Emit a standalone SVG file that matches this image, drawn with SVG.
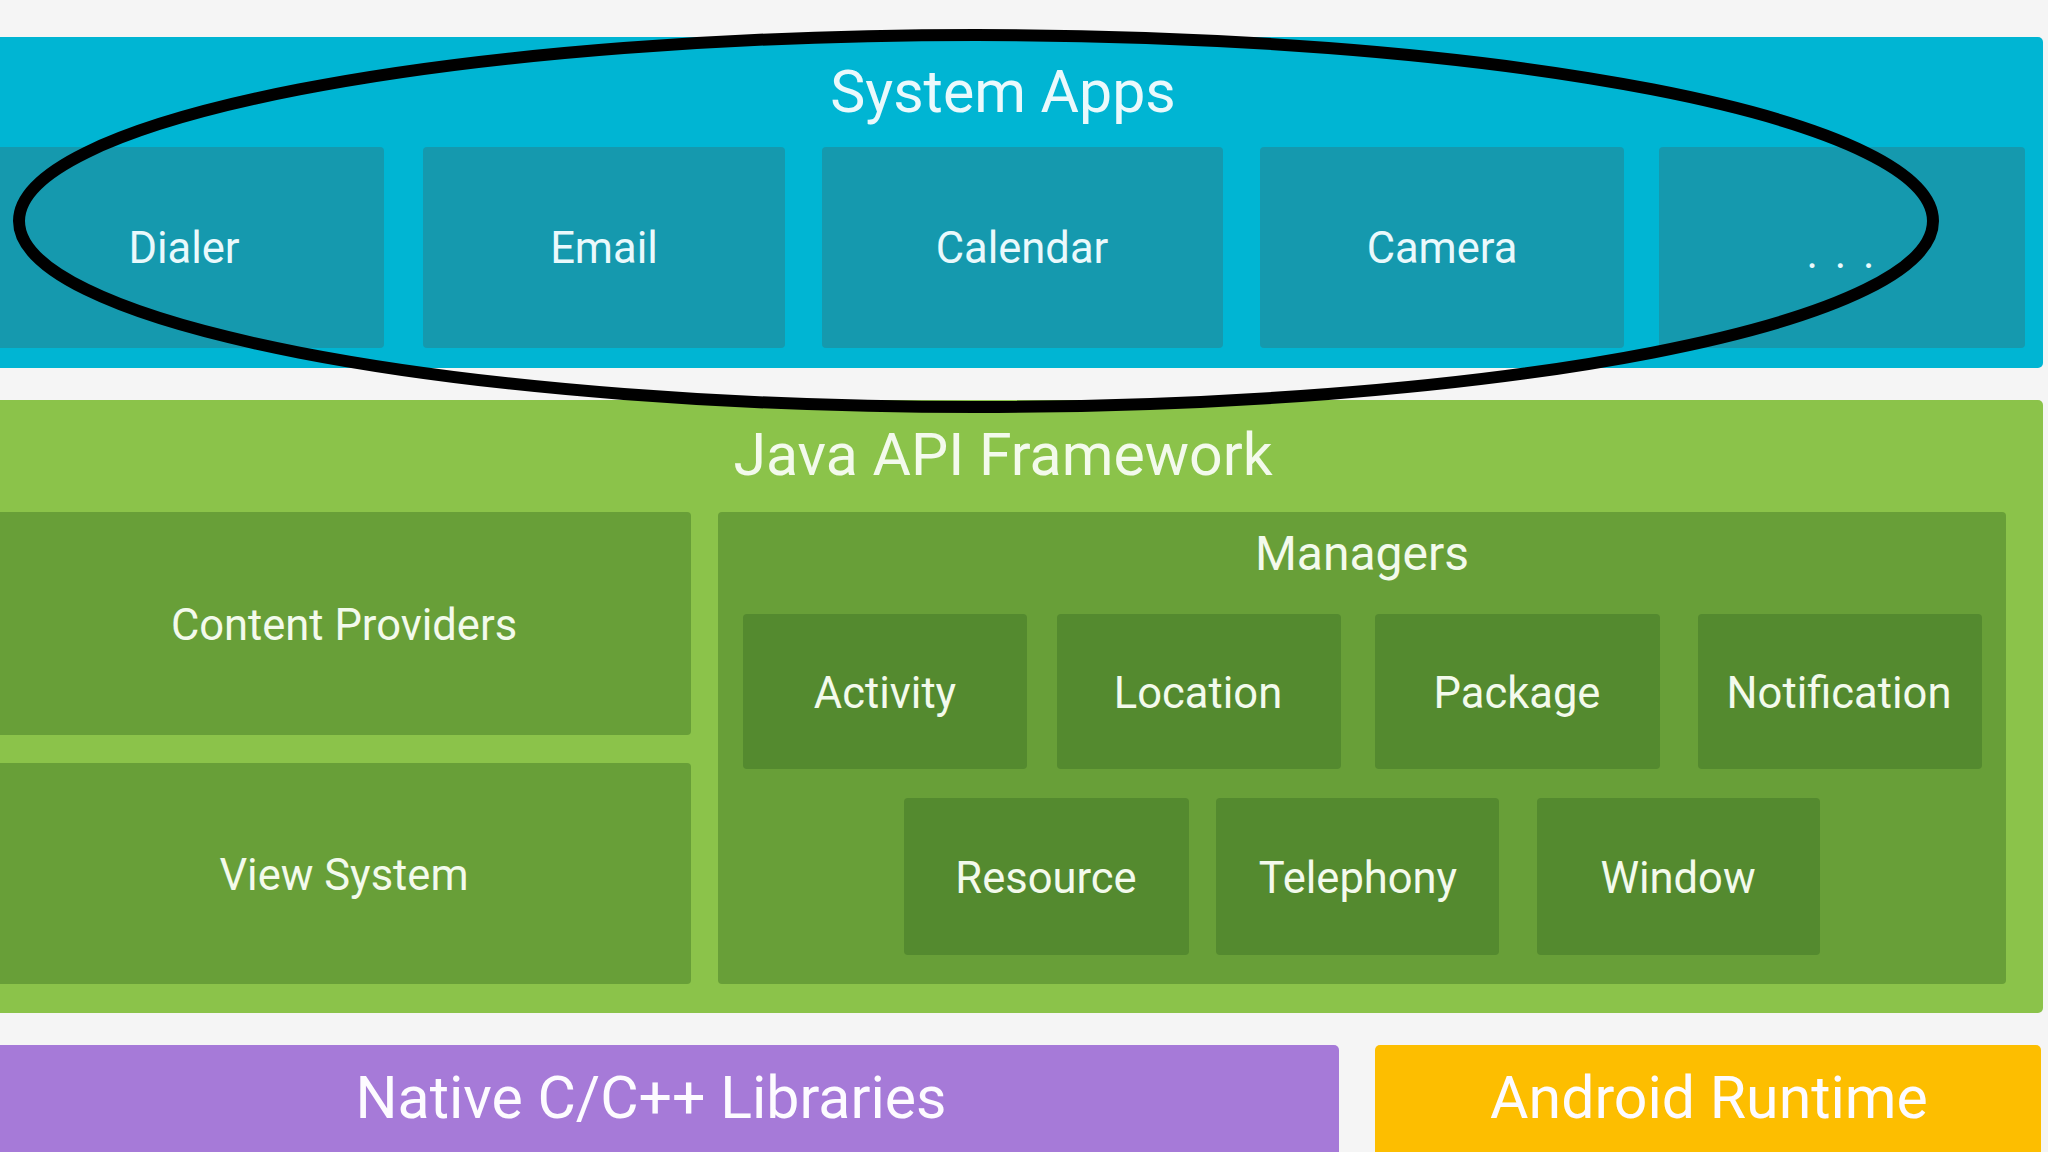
<svg xmlns="http://www.w3.org/2000/svg" width="2048" height="1152" viewBox="0 0 2048 1152">
<style>
  .t { font-family: Roboto, "Noto Sans", "Liberation Sans", sans-serif; text-anchor: middle; }
  .big { font-size: 59px; }
  .mid { font-size: 48px; }
  .sm { font-size: 43.5px; }
  .cy { fill: #eaf9fc; }
  .gr { fill: #f3faec; }
  .wh { fill: #fdfbff; }
  .appbox { fill: #1599ae; }
  .gbox { fill: #689f38; }
  .mbox { fill: #548a2f; }
</style>
<rect x="0" y="0" width="2048" height="1152" fill="#f5f5f5"/>

<g id="system-apps">
  <rect x="-10" y="37" width="2053" height="331" rx="5" fill="#00b5d3"/>
  <text class="t big cy" x="1003" y="112">System Apps</text>
  <g id="dialer"><rect class="appbox" x="-16" y="147" width="400" height="201" rx="4"/><text class="t sm cy" x="184" y="263">Dialer</text></g>
  <g id="email"><rect class="appbox" x="423" y="147" width="362" height="201" rx="4"/><text class="t sm cy" x="604" y="263">Email</text></g>
  <g id="calendar"><rect class="appbox" x="822" y="147" width="401" height="201" rx="4"/><text class="t sm cy" x="1022" y="263">Calendar</text></g>
  <g id="camera"><rect class="appbox" x="1260" y="147" width="364" height="201" rx="4"/><text class="t sm cy" x="1442" y="263">Camera</text></g>
  <g id="more"><rect class="appbox" x="1659" y="147" width="366" height="201" rx="4"/><text class="t sm cy" x="1842" y="268" letter-spacing="3">. . .</text></g>
</g>

<g id="java-api-framework">
  <rect x="-10" y="400" width="2053" height="613" rx="5" fill="#8bc34a"/>
  <text class="t big gr" x="1003" y="475">Java API Framework</text>
  <g id="content-providers"><rect class="gbox" x="-16" y="512" width="707" height="223" rx="4"/><text class="t sm gr" x="344" y="640">Content Providers</text></g>
  <g id="view-system"><rect class="gbox" x="-16" y="763" width="707" height="221" rx="4"/><text class="t sm gr" x="344" y="890">View System</text></g>
  <g id="managers">
    <rect class="gbox" x="718" y="512" width="1288" height="472" rx="4"/>
    <text class="t mid gr" x="1362" y="570">Managers</text>
    <g id="activity"><rect class="mbox" x="743" y="614" width="284" height="155" rx="4"/><text class="t sm gr" x="885" y="708">Activity</text></g>
    <g id="location"><rect class="mbox" x="1057" y="614" width="284" height="155" rx="4"/><text class="t sm gr" x="1198" y="708">Location</text></g>
    <g id="package"><rect class="mbox" x="1375" y="614" width="285" height="155" rx="4"/><text class="t sm gr" x="1517" y="708">Package</text></g>
    <g id="notification"><rect class="mbox" x="1698" y="614" width="284" height="155" rx="4"/><text class="t sm gr" x="1839" y="708">Notification</text></g>
    <g id="resource"><rect class="mbox" x="904" y="798" width="285" height="157" rx="4"/><text class="t sm gr" x="1046" y="893">Resource</text></g>
    <g id="telephony"><rect class="mbox" x="1216" y="798" width="283" height="157" rx="4"/><text class="t sm gr" x="1358" y="893">Telephony</text></g>
    <g id="window"><rect class="mbox" x="1537" y="798" width="283" height="157" rx="4"/><text class="t sm gr" x="1678" y="893">Window</text></g>
  </g>
</g>

<g id="native-libraries">
  <rect x="-10" y="1045" width="1349" height="130" rx="5" fill="#a67ad8"/>
  <text class="t big wh" x="651" y="1118">Native C/C++ Libraries</text>
</g>
<g id="android-runtime">
  <rect x="1375" y="1045" width="666" height="130" rx="5" fill="#fdbe00"/>
  <text class="t big wh" x="1709" y="1118">Android Runtime</text>
</g>

<g id="connectors">
  <ellipse cx="976" cy="221" rx="957" ry="186" fill="none" stroke="#000000" stroke-width="12"/>
</g>
</svg>
